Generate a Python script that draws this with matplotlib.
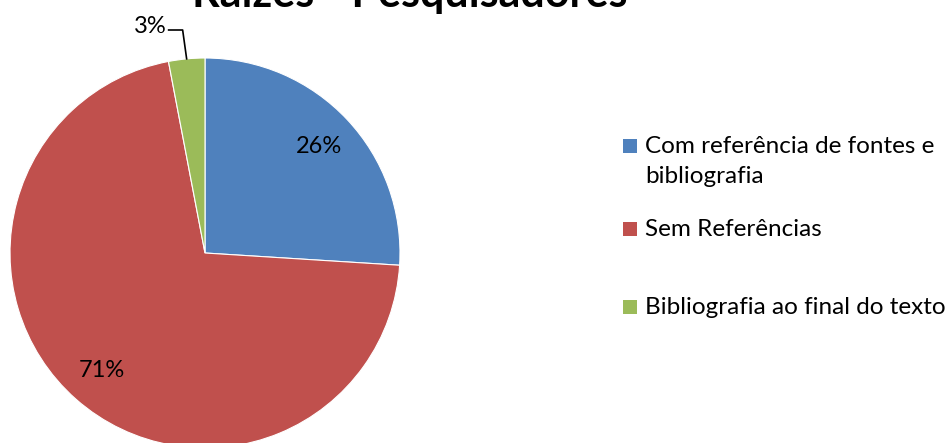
import matplotlib
matplotlib.use("Agg")
import matplotlib.pyplot as plt
from matplotlib.patches import Rectangle
import numpy as np

plt.rcParams['font.family'] = ['Lato', 'DejaVu Sans']

title = "Raízes - Pesquisadores"
categories = ["Com referência de fontes e\nbibliografia", "Sem Referências", "Bibliografia ao final do texto"]
values = [26, 71, 3]
colors = ["#4F81BD", "#C0504D", "#9BBB59"]

W, H = 953, 443
fig = plt.figure(figsize=(W / 100, H / 100), dpi=100)
ax = fig.add_axes([0, 0, 1, 1])

cx, cy, r = 205, H - 253, 195
wedges, texts, autotexts = ax.pie(
    values, colors=colors, startangle=90, counterclock=False,
    center=(cx, cy), radius=r, frame=True,
    autopct=lambda p: f"{p:.0f}%", pctdistance=0.8,
    wedgeprops=dict(edgecolor='white', linewidth=0.8),
    textprops=dict(fontsize=17, color='black'))
ax.set_xlim(0, W)
ax.set_ylim(0, H)
ax.set_aspect('equal')
ax.axis('off')

# small slice: label outside with a leader line
w = wedges[2]
mid = np.deg2rad((w.theta1 + w.theta2) / 2)
ex, ey = cx + r * np.cos(mid), cy + r * np.sin(mid)
ky = H - 30
ax.plot([ex, ex - 4, ex - 18], [ey, ky, ky], color='black', lw=1.2, clip_on=False)
autotexts[2].set_position((ex - 20, ky + 4))
autotexts[2].set_ha('right')
autotexts[2].set_va('center')

# legend: swatch top for each entry (pixels from the top)
swatch_tops = [139, 222, 300]
for lab, col, st in zip(categories, colors, swatch_tops):
    ax.add_patch(Rectangle((623, H - st - 14), 14, 14, facecolor=col, edgecolor='none'))
    ax.text(645, H - st + 3, lab, fontsize=17.5, ha='left', va='top',
            linespacing=1.5, multialignment='left')

fig.text(410 / W, 1 - 7 / H, title, fontsize=31, fontweight='bold',
         ha='center', va='baseline')

fig.savefig("out.png", dpi=100)
